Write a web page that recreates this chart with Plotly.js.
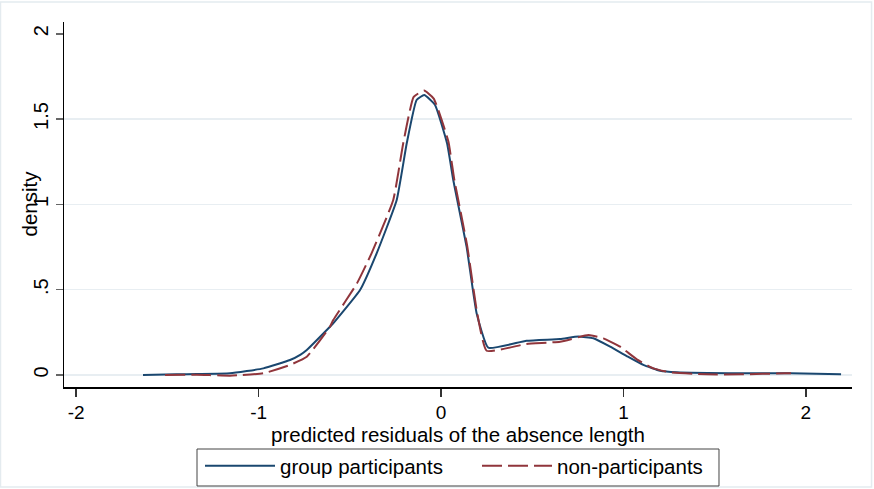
<!DOCTYPE html>
<html>
<head>
<meta charset="utf-8">
<script src="https://cdn.plot.ly/plotly-3.0.1.min.js"></script>
<style>
  html, body { margin: 0; padding: 0; background: #ffffff; }
  #chart { width: 874px; height: 489px; }
</style>
</head>
<body>
<div id="chart"></div>
<script>
// Kernel density of predicted residuals, group participants
const groupX = [-1.634, -1.45, -1.339, -1.157, -0.974, -0.828, -0.77, -0.736, -0.609, -0.591, -0.444, -0.353,
  -0.243, -0.188, -0.134, -0.092, -0.033, 0.033, 0.067, 0.140, 0.195, 0.259, 0.469, 0.653, 0.753, 0.835,
  0.927, 1.018, 1.109, 1.201, 1.292, 1.645, 1.919, 2.193];
const groupY = [0.000, 0.004, 0.006, 0.010, 0.039, 0.088, 0.12, 0.147, 0.283, 0.303, 0.498, 0.713,
  1.026, 1.358, 1.612, 1.641, 1.583, 1.358, 1.143, 0.752, 0.362, 0.160, 0.201, 0.211, 0.225, 0.215,
  0.166, 0.111, 0.059, 0.025, 0.016, 0.010, 0.010, 0.004];

// Kernel density of predicted residuals, non-participants
const nonX = [-1.513, -1.339, -1.157, -0.974, -0.828, -0.736, -0.609, -0.591, -0.461, -0.381, -0.262,
  -0.207, -0.150, -0.093, -0.040, 0.040, 0.072, 0.143, 0.197, 0.250, 0.469, 0.653, 0.808, 0.890,
  0.982, 1.073, 1.164, 1.255, 1.456, 1.645, 1.883, 1.919];
const nonY = [0.000, 0.002, -0.004, 0.010, 0.059, 0.107, 0.283, 0.322, 0.537, 0.713, 1.026,
  1.36, 1.63, 1.667, 1.62, 1.37, 1.15, 0.76, 0.37, 0.142, 0.182, 0.195, 0.234, 0.215,
  0.166, 0.092, 0.039, 0.016, 0.004, 0.004, 0.010, 0.010];

const seriesNames = ['group participants', 'non-participants'];
const xTickVals = [-2, -1, 0, 1, 2];
const xTickText = ['-2', '-1', '0', '1', '2'];
const yTickVals = [0, 0.5, 1, 1.5, 2];
const yTickText = ['0', '.5', '1', '1.5', '2'];
const yGridVals = [0, 0.5, 1, 1.5];

const FONT = 'Liberation Sans, Arial, sans-serif';

const traces = [
  {
    x: groupX, y: groupY, type: 'scatter', mode: 'lines', name: seriesNames[0], legend: 'legend',
    line: { color: '#1a476f', width: 2, shape: 'spline', smoothing: 0.4 }
  },
  {
    x: nonX, y: nonY, type: 'scatter', mode: 'lines', name: seriesNames[1], legend: 'legend2',
    line: { color: '#90353b', width: 2, dash: '20px,6px', shape: 'spline', smoothing: 0.4 }
  },
  // carries the y2 axis used for the light horizontal grid
  { x: [], y: [], yaxis: 'y2', showlegend: false, hoverinfo: 'skip' }
];

// one legend per series so both entries sit where the framed key puts them
const legendCommon = {
  orientation: 'h', xref: 'container', yref: 'container',
  xanchor: 'left', y: (489 - 446) / 489, yanchor: 'top',
  borderwidth: 0, bgcolor: 'rgba(0,0,0,0)',
  font: { size: 20.5, family: FONT }, itemwidth: 70
};

const layout = {
  width: 874, height: 489,
  margin: { l: 64, r: 22, t: 22, b: 102 },
  paper_bgcolor: '#ffffff', plot_bgcolor: '#ffffff',
  font: { family: FONT, color: '#000000', size: 19 },
  showlegend: true,
  xaxis: {
    range: [-2.067, 2.253], tickvals: xTickVals, ticktext: xTickText,
    showgrid: false, zeroline: false, showline: true, linecolor: '#000000', linewidth: 1.5,
    ticks: 'outside', ticklen: 8, tickwidth: 1.5, tickcolor: '#333333',
    tickfont: { size: 19, family: FONT },
    title: { text: 'predicted residuals of the absence length', font: { size: 20.5, family: FONT }, standoff: 2 }
  },
  yaxis: {
    range: [-0.0703, 2.069], tickvals: yTickVals, ticktext: yTickText, tickangle: -90,
    showgrid: false, zeroline: false, showline: true, linecolor: '#000000', linewidth: 1.5,
    ticks: 'outside', ticklen: 7, tickwidth: 1.5, tickcolor: '#666666',
    tickfont: { size: 20, family: FONT }
  },
  yaxis2: {
    overlaying: 'y', matches: 'y', tickvals: yGridVals, showticklabels: false, ticks: '',
    showgrid: true, gridcolor: '#e8eef2', gridwidth: 1.5, zeroline: false, showline: false
  },
  legend: Object.assign({}, legendCommon, { x: 200 / 874 }),
  legend2: Object.assign({}, legendCommon, { x: 477 / 874 }),
  annotations: [
    {
      text: 'density', xref: 'paper', yref: 'paper', x: -0.0438, y: 0.504,
      xanchor: 'center', yanchor: 'middle', textangle: -90, showarrow: false,
      font: { size: 20.5, family: FONT }
    }
  ],
  shapes: [
    // light frame round the whole graph
    {
      type: 'rect', xref: 'paper', yref: 'paper', x0: -0.0806, x1: 1.0248, y0: -0.274, y1: 1.0548,
      line: { color: '#e4ebef', width: 1.5 }, layer: 'below'
    },
    // frame of the key
    {
      type: 'rect', xref: 'paper', yref: 'paper', x0: 0.1688, x1: 0.8312, y0: -0.2712, y1: -0.1699,
      line: { color: '#444444', width: 1 }, layer: 'above'
    }
  ]
};

Plotly.newPlot('chart', traces, layout, { staticPlot: true, displayModeBar: false });
</script>
</body>
</html>
